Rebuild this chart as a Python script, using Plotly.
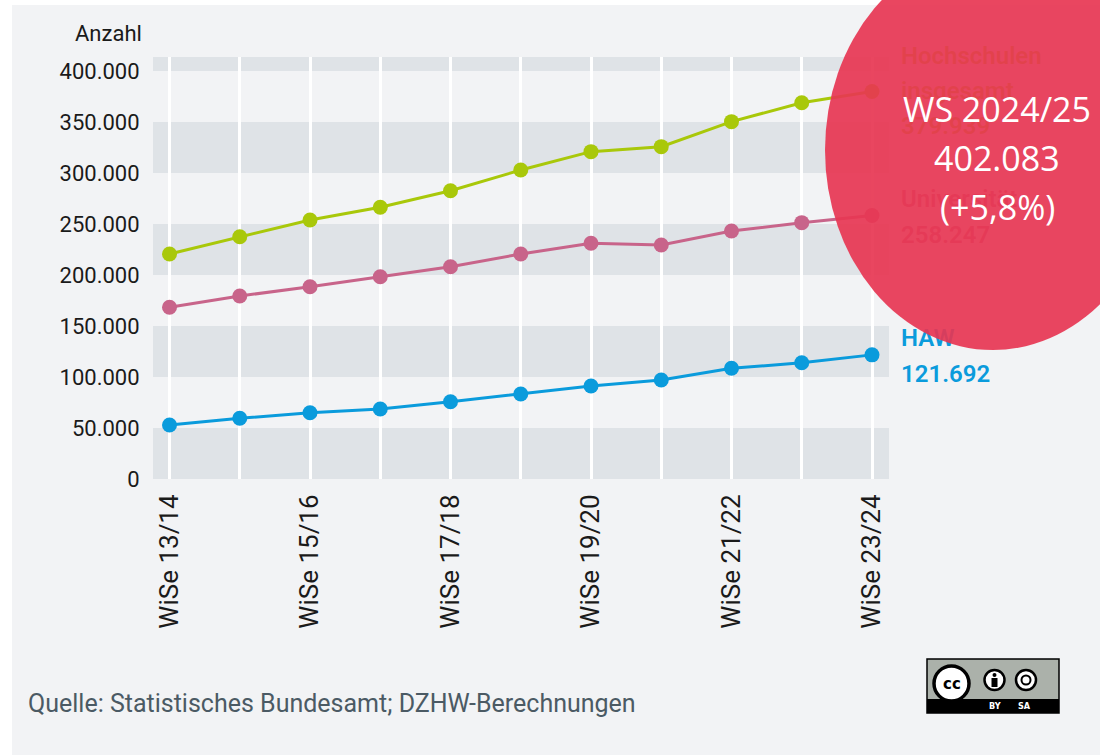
import plotly.graph_objects as go

# ---------------- data ----------------
semesters = ["WiSe 13/14", "WiSe 14/15", "WiSe 15/16", "WiSe 16/17", "WiSe 17/18", "WiSe 18/19",
             "WiSe 19/20", "WiSe 20/21", "WiSe 21/22", "WiSe 22/23", "WiSe 23/24"]
hochschulen = [220600, 237500, 253900, 266400, 282600, 302900, 320900, 325800, 350300, 368900, 379939]
universitaet = [168300, 179400, 188500, 198300, 208100, 220600, 231100, 229400, 243100, 251300, 258247]
haw = [52900, 59500, 65000, 68600, 75800, 83300, 91200, 97100, 108500, 114000, 121692]
y_ticks = [0, 50000, 100000, 150000, 200000, 250000, 300000, 350000, 400000]
label_hs = ["Hochschulen", "insgesamt", "379.939"]
label_uni = ["Universität", "258.247"]
label_haw = ["HAW", "121.692"]
bubble_lines = ["WS 2024/25", "402.083", "(+5,8%)"]
source_text = "Quelle: Statistisches Bundesamt; DZHW-Berechnungen"

# ---------------- layout geometry (pixels) ----------------
FIG_W, FIG_H = 1100, 755
L, R, T, B = 153, 889, 57, 479          # main plot area
LX0 = 895                                # label strip start
XMIN, XMAX = -0.235, 10.242
YMAX = 413700

def px_x(px):
    return px / FIG_W

def px_y(py):
    return 1 - py / FIG_H

def data_y(py):
    return (B - py) / (B - T) * YMAX

def lab_x(px):
    return (px - LX0) / (FIG_W - LX0)

GREEN = "#a9c80a"
PINK = "#c8648a"
BLUE = "#0a9bdc"
BG = "#f2f3f5"
BAND = "#dfe3e7"

xs = list(range(len(semesters)))
ticktext = [s if i % 2 == 0 else "" for i, s in enumerate(semesters)]

fig = go.Figure()

for vals, col, name in [(hochschulen, GREEN, "Hochschulen insgesamt"),
                        (universitaet, PINK, "Universität"),
                        (haw, BLUE, "HAW")]:
    fig.add_trace(go.Scatter(x=xs, y=vals, mode="lines+markers", name=name,
                             line=dict(color=col, width=3),
                             marker=dict(color=col, size=15),
                             cliponaxis=False, showlegend=False))

# series labels as text traces in a side strip (so the bubble shape can cover them)
def add_labels(lines, centers, col):
    fig.add_trace(go.Scatter(x=[lab_x(901)] * len(lines), y=[data_y(c) for c in centers],
                             xaxis="x2", yaxis="y",
                             mode="text", text=lines, textposition="middle right",
                             textfont=dict(family="Roboto", size=24, color=col, weight=600),
                             cliponaxis=False, showlegend=False, hoverinfo="skip"))

add_labels(label_hs, [58, 93, 128], GREEN)
add_labels(label_uni, [201, 237], PINK)
add_labels(label_haw, [340, 376], BLUE)

shapes = []
# white strips at the top and left edge of the page
shapes.append(dict(type="rect", xref="paper", yref="paper", layer="below",
                   x0=0, x1=1, y0=px_y(5), y1=1, fillcolor="#ffffff", line=dict(width=0)))
shapes.append(dict(type="rect", xref="paper", yref="paper", layer="below",
                   x0=0, x1=px_x(12), y0=0, y1=1, fillcolor="#ffffff", line=dict(width=0)))
# alternating horizontal bands
band_edges = [(0, 50000), (100000, 150000), (200000, 250000), (300000, 350000), (400000, YMAX)]
for y0, y1 in band_edges:
    shapes.append(dict(type="rect", xref="x domain", yref="y", layer="below",
                       x0=0, x1=1, y0=y0, y1=y1, fillcolor=BAND, line=dict(width=0)))

# red bubble
shapes.append(dict(type="circle", xref="paper", yref="paper", layer="above",
                   x0=px_x(825), x1=px_x(1161), y0=px_y(350), y1=px_y(-50),
                   fillcolor="#e73652", opacity=0.92, line=dict(width=0)))

# CC BY-SA badge
bx0, bx1, by0, by1 = 927, 1059, 659, 713
shapes.append(dict(type="rect", xref="paper", yref="paper", layer="above",
                   x0=px_x(bx0), x1=px_x(bx1), y0=px_y(by1), y1=px_y(by0),
                   fillcolor="#abb1aa", line=dict(color="#000000", width=1.5)))
shapes.append(dict(type="rect", xref="paper", yref="paper", layer="above",
                   x0=px_x(bx0), x1=px_x(bx1), y0=px_y(by1), y1=px_y(699),
                   fillcolor="#000000", line=dict(width=0)))
shapes.append(dict(type="circle", xref="paper", yref="paper", layer="above",
                   x0=px_x(934), x1=px_x(969), y0=px_y(701), y1=px_y(666),
                   fillcolor="#ffffff", line=dict(color="#000000", width=3.5)))
for cx in (994.5, 1026):
    shapes.append(dict(type="circle", xref="paper", yref="paper", layer="above",
                       x0=px_x(cx - 10), x1=px_x(cx + 10), y0=px_y(690), y1=px_y(670),
                       fillcolor="#ffffff", line=dict(color="#000000", width=2.5)))
shapes.append(dict(type="circle", xref="paper", yref="paper", layer="above",
                   x0=px_x(992.5), x1=px_x(996.5), y0=px_y(677), y1=px_y(673),
                   fillcolor="#000000", line=dict(width=0)))
shapes.append(dict(type="rect", xref="paper", yref="paper", layer="above",
                   x0=px_x(991.5), x1=px_x(997.5), y0=px_y(687), y1=px_y(678),
                   fillcolor="#000000", line=dict(width=0)))
shapes.append(dict(type="circle", xref="paper", yref="paper", layer="above",
                   x0=px_x(1021.5), x1=px_x(1030.5), y0=px_y(684.5), y1=px_y(675.5),
                   fillcolor="rgba(0,0,0,0)", line=dict(color="#000000", width=2)))

annotations = []
annotations.append(dict(text="Anzahl", xref="paper", yref="paper", x=px_x(144), y=px_y(33),
                        xanchor="right", yanchor="middle", showarrow=False,
                        font=dict(family="Roboto", size=22, color="#1a1a1a")))
annotations.append(dict(text=source_text, xref="paper", yref="paper", x=px_x(26), y=px_y(703),
                        xanchor="left", yanchor="middle", showarrow=False,
                        font=dict(family="Roboto", size=25, color="#4b5a64")))
for line, cy in zip(bubble_lines, [109, 158, 207]):
    annotations.append(dict(text=line, xref="paper", yref="paper", x=px_x(997), y=px_y(cy),
                            xanchor="center", yanchor="middle", showarrow=False,
                            font=dict(family="Open Sans", size=34, color="#ffffff")))
annotations.append(dict(text="<b>cc</b>", xref="paper", yref="paper", x=px_x(951.5), y=px_y(684),
                        xanchor="center", yanchor="middle", showarrow=False,
                        font=dict(family="DejaVu Sans", size=15, color="#000000")))
for t, cx in (("BY", 995), ("SA", 1024)):
    annotations.append(dict(text="<b>" + t + "</b>", xref="paper", yref="paper", x=px_x(cx), y=px_y(706),
                            xanchor="center", yanchor="middle", showarrow=False,
                            font=dict(family="DejaVu Sans Condensed", size=9, color="#ffffff")))

fig.update_layout(
    width=FIG_W, height=FIG_H,
    margin=dict(l=0, r=0, t=0, b=0, pad=0, autoexpand=False),
    paper_bgcolor=BG, plot_bgcolor=BG,
    separators=",.",
    shapes=shapes, annotations=annotations,
    showlegend=False,
    hovermode=False,
    xaxis=dict(domain=[px_x(L), px_x(R)], anchor="y", automargin=False,
               range=[XMIN, XMAX], tickmode="array", tickvals=xs, ticktext=ticktext,
               tickangle=-90, showgrid=True, gridcolor="#ffffff", gridwidth=2.5,
               zeroline=False, showline=False, ticks="outside", ticklen=4,
               tickcolor="rgba(0,0,0,0)",
               tickfont=dict(family="Roboto", size=26, color="#1a1a1a")),
    xaxis2=dict(domain=[px_x(LX0), 1], anchor="y", range=[0, 1], visible=False,
                automargin=False, fixedrange=True),
    yaxis=dict(domain=[px_y(B), px_y(T)], anchor="x", automargin=False,
               range=[0, YMAX], tickmode="array", tickvals=y_ticks, tickformat=",d",
               showgrid=False, zeroline=False, showline=False, ticks="outside", ticklen=8,
               tickcolor="rgba(0,0,0,0)",
               tickfont=dict(family="Roboto", size=22, color="#1a1a1a")),
)

fig.write_html("out.html",
               config={"displayModeBar": False},
               post_script="document.body.style.margin='0';document.body.style.overflow='hidden';")
